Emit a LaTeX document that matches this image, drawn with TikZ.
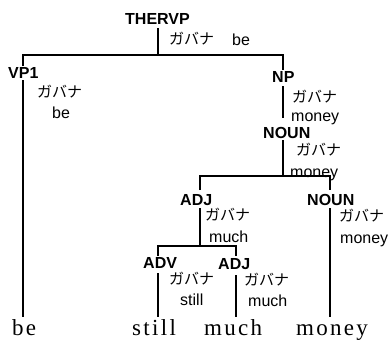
\documentclass[tikz,border=0pt]{standalone}
\usepackage{fontspec}
\setmainfont{Liberation Serif}
\newfontfamily\lab{Liberation Sans}
\newfontfamily\jp{Noto Sans CJK JP}
\newfontfamily\wordfont[LetterSpace=10]{Liberation Serif}
\begin{document}
\begin{tikzpicture}[x=1pt,y=-1pt,
  cat/.style={font=\lab\bfseries\fontsize{16}{16}\selectfont, inner sep=0pt, anchor=base west},
  kana/.style={font=\jp\fontsize{15}{15}\selectfont, inner sep=0pt, anchor=west},
  val/.style={font=\lab\fontsize{16}{16}\selectfont, inner sep=0pt, anchor=base west},
  word/.style={font=\wordfont\fontsize{23}{23}\selectfont, inner sep=0pt, anchor=base west},
  edge/.style={line width=1.1pt}]
\useasboundingbox[fill=white] (0,0) rectangle (391,341);

% category labels
\node[cat] (thervp) at (125,24) {THERVP};
\node[cat] (vp1) at (8,78) {VP1};
\node[cat] (np) at (272,82) {NP};
\node[cat] (noun1) at (263,138) {NOUN};
\node[cat] (adj1) at (180,205) {ADJ};
\node[cat] (noun2) at (307,205) {NOUN};
\node[cat] (adv) at (143,268) {ADV};
\node[cat] (adj2) at (218,269) {ADJ};

% annotations
\node[kana] (k0) at (169,39) {ガバナ};
\node[val]  (v0) at (232,45) {be};
\node[kana] (k1) at (37,92) {ガバナ};
\node[val]  (v1) at (52,118) {be};
\node[kana] (k2) at (292,97) {ガバナ};
\node[val]  (v2) at (291,121) {money};
\node[kana] (k3) at (296,150) {ガバナ};
\node[val]  (v3) at (290,177) {money};
\node[kana] (k4) at (205,215) {ガバナ};
\node[val]  (v4) at (209,242) {much};
\node[kana] (k5) at (339,216) {ガバナ};
\node[val]  (v5) at (340,243) {money};
\node[kana] (k6) at (169,279) {ガバナ};
\node[val]  (v6) at (180,305) {still};
\node[kana] (k7) at (244,280) {ガバナ};
\node[val]  (v7) at (248,306) {much};

% words
\node[word] (w1) at (12,335) {be};
\node[word] (w2) at (132,335) {still};
\node[word] (w3) at (204,335) {much};
\node[word] (w4) at (296,335) {money};

% line coordinates
\coordinate (r-b) at (158,28);
\coordinate (bar1) at (158,55);
\coordinate (vp1-t) at (23,66);
\coordinate (vp1-b) at (23,80);
\coordinate (w1-t) at (23,317);
\coordinate (np-t) at (283,70);
\coordinate (np-b) at (283,86);
\coordinate (np-e) at (283,118);
\coordinate (noun1-b) at (283,140);
\coordinate (bar2) at (283,176);
\coordinate (adj1-t) at (200,190);
\coordinate (adj1-b) at (200,208);
\coordinate (noun2-t) at (330,190);
\coordinate (noun2-b) at (330,208);
\coordinate (w4-t) at (330,317);
\coordinate (bar3) at (200,246);
\coordinate (adv-t) at (158,256);
\coordinate (adv-b) at (158,273);
\coordinate (w2-t) at (158,317);
\coordinate (adj2-t) at (236,256);
\coordinate (adj2-b) at (236,275);
\coordinate (w3-t) at (236,317);

\draw[edge] (r-b) -- (bar1);
\draw[edge] (vp1-t) -- (vp1-t |- bar1) -- (np-t |- bar1) -- (np-t);
\draw[edge] (vp1-b) -- (w1-t);
\draw[edge] (np-b) -- (np-e);
\draw[edge] (noun1-b) -- (bar2);
\draw[edge] (adj1-t) -- (adj1-t |- bar2) -- (noun2-t |- bar2) -- (noun2-t);
\draw[edge] (noun2-b) -- (w4-t);
\draw[edge] (adj1-b) -- (bar3);
\draw[edge] (adv-t) -- (adv-t |- bar3) -- (adj2-t |- bar3) -- (adj2-t);
\draw[edge] (adv-b) -- (w2-t);
\draw[edge] (adj2-b) -- (w3-t);
\end{tikzpicture}
\end{document}
